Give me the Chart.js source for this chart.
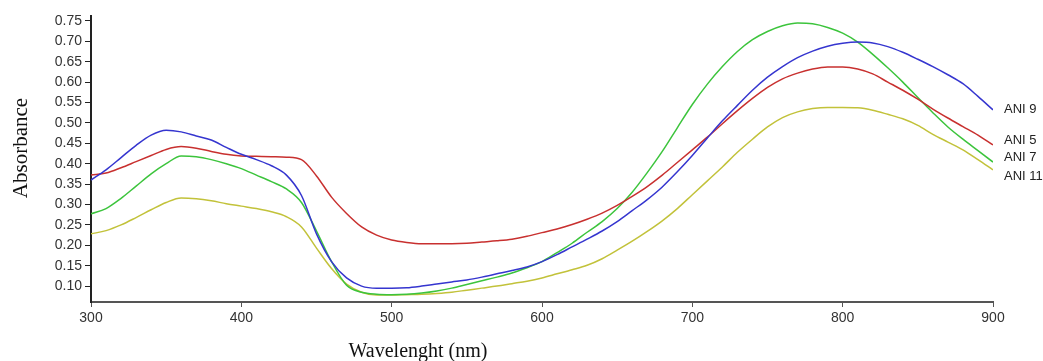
<!DOCTYPE html>
<html>
<head>
<meta charset="utf-8">
<script src="https://cdn.jsdelivr.net/npm/chart.js@4"></script>
<style>
	html, body { margin: 0; padding: 0; background: #fff; }
	#wrap { width: 1043px; height: 361px; position: relative; }
</style>
</head>
<body>
<div id="wrap"><canvas id="myChart"></canvas></div>
<script>
// wavelength grid (nm)
const wavelengths = [300, 310, 320, 330, 340, 350, 360, 370, 380, 390,
	400, 410, 420, 430, 440, 450, 460, 470, 480, 490,
	500, 510, 520, 530, 540, 550, 560, 570, 580, 590,
	600, 610, 620, 630, 640, 650, 660, 670, 680, 690,
	700, 710, 720, 730, 740, 750, 760, 770, 780, 790,
	800, 810, 820, 830, 840, 850, 860, 870, 880, 890, 900];

const ani9 = [0.36, 0.385, 0.415, 0.445, 0.47, 0.482, 0.478, 0.468, 0.458, 0.44,
	0.423, 0.41, 0.395, 0.372, 0.322, 0.228, 0.16, 0.12, 0.1, 0.095,
	0.095, 0.096, 0.1, 0.105, 0.11, 0.115, 0.122, 0.13, 0.138, 0.147,
	0.16, 0.177, 0.196, 0.215, 0.235, 0.258, 0.285, 0.312, 0.343, 0.38,
	0.42, 0.463, 0.505, 0.543, 0.58, 0.612, 0.638, 0.66, 0.676, 0.688,
	0.695, 0.698, 0.696, 0.687, 0.673, 0.656, 0.638, 0.618, 0.596, 0.565, 0.532];

const ani5 = [0.372, 0.377, 0.39, 0.405, 0.42, 0.435, 0.442, 0.438, 0.43, 0.423,
	0.419, 0.418, 0.417, 0.416, 0.41, 0.37, 0.318, 0.278, 0.245, 0.225,
	0.213, 0.207, 0.204, 0.204, 0.204, 0.205, 0.208, 0.211, 0.215, 0.222,
	0.231, 0.24, 0.251, 0.264, 0.279, 0.298, 0.32, 0.344, 0.372, 0.403,
	0.434, 0.465, 0.498, 0.53, 0.56, 0.587, 0.608, 0.622, 0.632, 0.637,
	0.637, 0.632, 0.62, 0.6, 0.58, 0.558, 0.534, 0.512, 0.491, 0.47, 0.446];

const ani7 = [0.277, 0.29, 0.315, 0.345, 0.375, 0.4, 0.419, 0.417, 0.41, 0.4,
	0.388, 0.372, 0.356, 0.338, 0.305, 0.235, 0.16, 0.102, 0.085, 0.08,
	0.079, 0.08, 0.083, 0.088, 0.095, 0.104, 0.113, 0.122, 0.132, 0.145,
	0.16, 0.182, 0.205, 0.232, 0.258, 0.29, 0.33, 0.378, 0.43, 0.488,
	0.545, 0.595, 0.638, 0.675, 0.704, 0.724, 0.738, 0.745, 0.743, 0.734,
	0.72, 0.698, 0.668, 0.635, 0.6, 0.562, 0.525, 0.49, 0.46, 0.432, 0.404];

const ani11 = [0.228, 0.236, 0.25, 0.268, 0.287, 0.305, 0.316, 0.314, 0.309, 0.302,
	0.296, 0.29, 0.282, 0.27, 0.245, 0.193, 0.143, 0.105, 0.085, 0.078,
	0.078, 0.079, 0.08, 0.082, 0.085, 0.09, 0.095, 0.1, 0.106, 0.112,
	0.12, 0.13, 0.14, 0.151, 0.167, 0.188, 0.21, 0.234, 0.26, 0.29,
	0.324, 0.358, 0.392, 0.428, 0.46, 0.49, 0.513, 0.527, 0.535, 0.538,
	0.538, 0.537, 0.531, 0.521, 0.51, 0.494, 0.472, 0.453, 0.434, 0.41, 0.385];

const yTicks = [0.10, 0.15, 0.20, 0.25, 0.30, 0.35, 0.40, 0.45, 0.50, 0.55, 0.60, 0.65, 0.70, 0.75];

const seriesNames = ['ANI 9', 'ANI 5', 'ANI 7', 'ANI 11'];
const seriesData = [ani9, ani5, ani7, ani11];
const seriesColors = ['#3535cf', '#c8302f', '#3cc43c', '#c2c23a'];
// where the end labels sit (in absorbance units)
const labelValues = [0.532, 0.456, 0.416, 0.37];

const ctx = document.getElementById('myChart');

function toPoints(vals) {
	return vals.map((v, i) => ({ x: wavelengths[i], y: v }));
}

const chartText = {
	id: 'chartText',
	afterDraw(chart) {
		const c = chart.ctx;
		const ys = chart.scales.y;
		c.save();
		c.font = '13px "Liberation Sans", Arial, sans-serif';
		c.fillStyle = '#222';
		c.textAlign = 'left';
		c.textBaseline = 'middle';
		seriesNames.forEach((name, i) => {
			c.fillText(name, chart.chartArea.right + 11, ys.getPixelForValue(labelValues[i]));
		});
		// axis titles, placed as in the original (not centred on the axes)
		c.fillStyle = '#111';
		c.textAlign = 'center';
		c.textBaseline = 'alphabetic';
		c.font = '20px "Liberation Serif", "Times New Roman", serif';
		c.fillText('Wavelenght (nm)', 418, 357);
		c.translate(27, 148);
		c.rotate(-Math.PI / 2);
		c.font = '21px "Liberation Serif", "Times New Roman", serif';
		c.fillText('Absorbance', 0, 0);
		c.restore();
	}
};

new Chart(ctx, {
	type: 'line',
	data: {
		datasets: seriesNames.map((name, i) => ({
			label: name,
			data: toPoints(seriesData[i]),
			borderColor: seriesColors[i],
			borderWidth: 1.5,
			pointRadius: 0,
			cubicInterpolationMode: 'monotone',
			fill: false
		}))
	},
	options: {
		responsive: true,
		maintainAspectRatio: false,
		animation: false,
		layout: { padding: { left: 0, right: 50, top: 16, bottom: 0 } },
		plugins: {
			legend: { display: false },
			tooltip: { enabled: false }
		},
		scales: {
			x: {
				type: 'linear',
				min: 300,
				max: 900,
				afterFit: (s) => { s.height = 59; },
				grid: { display: true, drawOnChartArea: false, drawTicks: true, tickLength: 5, color: '#555' },
				border: { display: true, color: '#555', width: 2 },
				ticks: {
					stepSize: 100,
					padding: 3,
					color: '#333',
					font: { family: '"Liberation Sans", Arial, sans-serif', size: 14 }
				}
			},
			y: {
				min: 0.061,
				max: 0.762,
				afterFit: (s) => { s.width = 91; },
				afterBuildTicks: (s) => { s.ticks = yTicks.map(v => ({ value: v })); },
				grid: { display: true, drawOnChartArea: false, drawTicks: true, tickLength: 6, color: '#222' },
				border: { display: true, color: '#222', width: 2 },
				ticks: {
					padding: 3,
					color: '#333',
					font: { family: '"Liberation Sans", Arial, sans-serif', size: 14 },
					callback: (v) => v.toFixed(2)
				}
			}
		}
	},
	plugins: [chartText]
});
</script>
</body>
</html>
